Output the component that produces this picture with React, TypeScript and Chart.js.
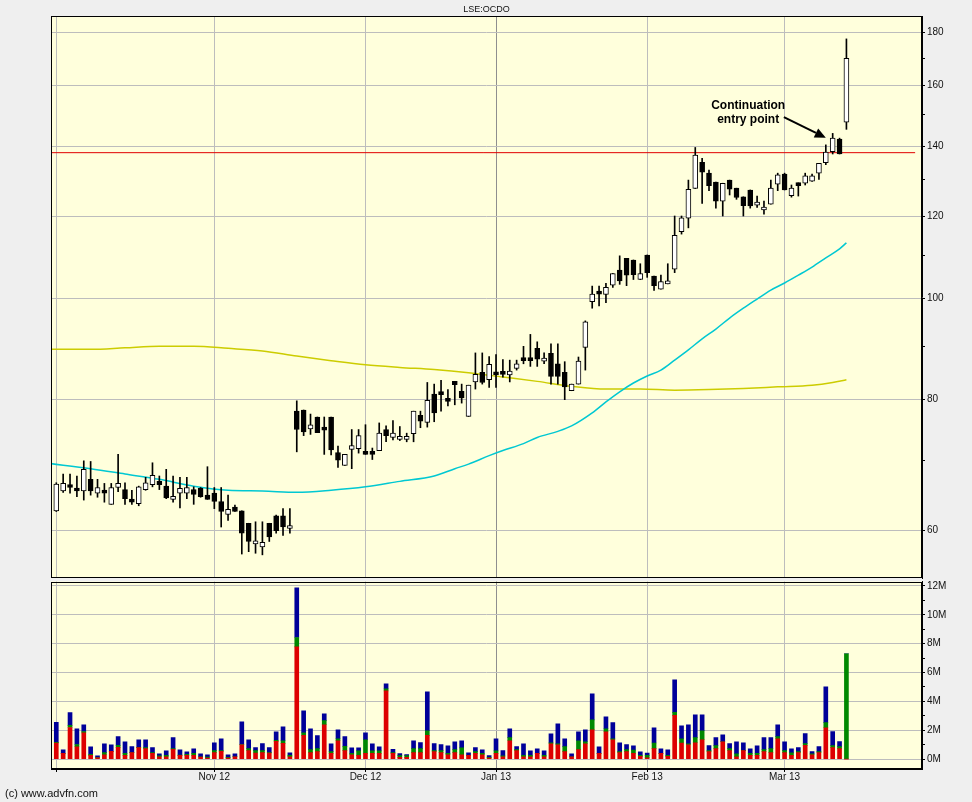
import React, { useEffect, useRef } from 'react';
import { Chart, registerables } from 'chart.js';

Chart.register(...registerables);

// ---------- DATA ----------
const title = 'LSE:OCDO';
const copyright = '(c) www.advfn.com';

// x axis: trading-day index (0 = 1 Oct 2012)
const monthTickIdx = [0, 23, 45, 64, 86, 106];
const monthTickLabels = ['', 'Nov 12', 'Dec 12', 'Jan 13', 'Feb 13', 'Mar 13'];
const yearBoundaryIdx = 64;
const xMin = -0.77;
const xMax = 126.0;

const priceTicks = [60, 70, 80, 90, 100, 110, 120, 130, 140, 150, 160, 170, 180];
const priceLabelTicks = [60, 80, 100, 120, 140, 160, 180];
const priceMin = 53.97;
const priceMax = 186.6;

const volTicks = [0, 1, 2, 3, 4, 5, 6, 7, 8, 9, 10, 11, 12];
const volMin = -0.69;
const volMax = 12.31;

const open = [
  62.6, 65.4, 66.2, 65.8, 65.4, 67.1, 65.1, 65.3, 63.5, 65.9,
  65.6, 64.2, 63.6, 65.6, 66.3, 66.8, 66.1, 64.2, 65.1, 65.1,
  65.6, 65.8, 64.8, 65.1, 63.9, 62.1, 63.1, 62.6, 60.9, 58.2,
  57.8, 60.9, 61.9, 61.9, 60.2, 78.0, 78.2, 75.0, 77.0, 75.0,
  77.0, 71.2, 69.2, 71.7, 71.8, 71.3, 71.0, 71.5, 74.9, 73.6,
  73.3, 73.3, 74.2, 77.3, 76.1, 81.0, 81.1, 79.9, 83.3, 81.5,
  77.1, 83.2, 85.0, 83.6, 84.8, 85.1, 84.5, 85.7, 87.5, 87.4,
  89.6, 87.1, 88.6, 86.6, 85.0, 81.6, 82.8, 89.8, 99.3, 101.3,
  100.9, 103.0, 106.5, 109.3, 108.9, 104.3, 110.1, 105.1, 102.1, 103.3,
  106.7, 115.9, 119.4, 127.5, 135.1, 131.9, 129.3, 124.0, 129.9, 127.6,
  125.2, 127.1, 122.9, 121.6, 123.2, 128.7, 131.6, 125.5, 129.0, 129.0,
  129.6, 131.9, 135.0, 138.3, 142.2, 147.6,
];
const high = [
  66.6, 67.9, 67.9, 67.6, 69.9, 69.8, 67.1, 66.5, 66.5, 70.9,
  66.6, 65.5, 66.1, 67.4, 69.6, 67.6, 68.6, 67.6, 67.4, 67.4,
  66.0, 65.9, 69.0, 65.9, 65.9, 64.8, 63.4, 62.6, 60.9, 61.1,
  61.1, 60.9, 62.0, 62.9, 62.9, 79.8, 78.2, 77.5, 77.0, 77.0,
  77.0, 72.2, 70.9, 74.9, 74.9, 75.7, 71.9, 76.0, 75.5, 76.4,
  75.4, 74.3, 78.0, 78.0, 83.1, 82.8, 83.5, 81.8, 83.3, 82.8,
  82.6, 88.7, 88.7, 88.0, 88.4, 87.4, 87.3, 87.3, 90.0, 92.4,
  90.9, 88.7, 90.5, 90.5, 87.0, 82.8, 87.9, 95.2, 102.8, 102.8,
  103.4, 105.7, 109.9, 109.3, 108.9, 108.0, 110.1, 105.1, 105.3, 108.0,
  120.0, 120.0, 129.9, 139.6, 136.3, 132.8, 129.3, 129.0, 129.9, 127.6,
  125.2, 127.1, 125.4, 124.0, 129.9, 131.9, 131.9, 128.5, 129.1, 131.9,
  131.6, 134.8, 140.4, 144.0, 142.5, 177.4,
];
const low = [
  62.5, 65.2, 65.1, 64.6, 64.1, 64.8, 64.5, 63.8, 63.5, 65.3,
  63.5, 63.5, 63.3, 65.5, 66.0, 65.6, 64.3, 63.8, 63.0, 64.3,
  63.5, 64.5, 64.2, 62.9, 60.4, 61.3, 62.5, 56.9, 57.2, 57.0,
  56.8, 58.5, 59.6, 59.3, 59.6, 71.3, 73.9, 74.1, 74.4, 70.9,
  70.8, 68.9, 69.2, 68.7, 71.1, 70.9, 70.1, 71.5, 72.9, 73.2,
  73.1, 72.9, 72.9, 75.2, 75.3, 76.2, 78.0, 78.9, 79.1, 79.4,
  77.1, 81.9, 82.8, 82.2, 82.2, 84.1, 83.2, 85.4, 86.6, 86.1,
  86.1, 86.6, 82.8, 82.8, 80.0, 81.6, 82.8, 85.4, 97.9, 98.4,
  99.1, 102.5, 103.2, 102.9, 104.3, 104.3, 104.8, 101.8, 102.1, 103.3,
  105.9, 115.3, 116.9, 127.5, 123.4, 126.9, 122.1, 120.0, 125.7, 124.5,
  120.0, 122.1, 122.3, 120.5, 123.2, 126.9, 127.1, 125.1, 125.4, 128.5,
  129.5, 130.1, 134.4, 137.6, 137.6, 145.3,
];
const close = [
  66.4, 66.5, 65.9, 65.4, 68.6, 65.4, 65.9, 65.1, 65.9, 66.5,
  64.3, 63.8, 66.0, 66.6, 67.7, 66.3, 64.4, 64.5, 65.8, 65.9,
  64.9, 64.6, 64.2, 63.9, 62.5, 62.8, 62.5, 59.6, 58.5, 58.4,
  58.4, 59.1, 59.9, 60.4, 60.5, 74.9, 74.5, 75.7, 74.4, 74.8,
  71.6, 70.0, 70.9, 72.3, 73.9, 70.9, 70.9, 74.3, 73.9, 74.3,
  73.7, 73.8, 78.0, 76.3, 79.9, 77.7, 80.9, 79.7, 82.7, 80.3,
  82.6, 84.6, 83.1, 86.5, 84.5, 84.6, 85.2, 86.6, 87.2, 87.2,
  87.5, 87.5, 84.2, 84.2, 82.3, 82.8, 87.1, 95.0, 101.0, 101.0,
  102.5, 105.7, 104.0, 105.3, 105.4, 105.7, 105.9, 102.9, 103.8, 103.8,
  115.0, 119.5, 127.3, 137.3, 132.2, 128.3, 124.0, 129.0, 127.3, 125.0,
  122.8, 122.7, 123.5, 122.1, 127.6, 131.4, 127.1, 127.6, 128.3, 131.1,
  131.1, 134.8, 138.2, 142.5, 137.6, 170.0,
];

// moving averages
const cyanIdx = [-1, 5, 10, 15, 20, 25, 30, 35, 40, 45, 50, 55, 58, 60, 63, 65, 68, 70, 73, 75, 78, 80, 82, 84, 86, 88, 90, 92, 94, 96, 98, 100, 102, 104, 106, 108, 110, 112, 114, 115];
const cyanVal = [69.5, 68.7, 67.9, 67.1, 66.1, 65.5, 65.4, 65.2, 65.5, 66.0, 66.8, 67.6, 68.7, 69.4, 70.7, 71.5, 72.6, 73.6, 74.6, 75.5, 77.7, 79.6, 81.4, 83.0, 84.3, 85.4, 87.3, 89.3, 91.5, 93.5, 95.8, 97.9, 99.9, 101.9, 103.5, 105.3, 107.2, 109.4, 111.6, 113.1];
const yellowIdx = [-1, 5, 10, 15, 20, 25, 30, 35, 40, 45, 50, 55, 60, 65, 70, 75, 80, 85, 90, 95, 100, 105, 110, 113, 115];
const yellowVal = [89.4, 89.4, 89.7, 90.0, 90.0, 89.6, 89.1, 88.1, 87.2, 86.4, 85.9, 85.5, 84.9, 84.1, 83.3, 82.4, 81.9, 81.9, 81.7, 81.8, 82.0, 82.3, 82.6, 83.1, 83.6];

const levelPrice = 138;
const levelFromIdx = -0.77;
const levelToIdx = 125.0;

// annotation
const annoLines = ['Continuation', 'entry point'];
const annoTextIdx = 100.7;
const annoTextPrice = [153.0, 148.4];
const arrowFrom = { idx: 105.9, price: 149.3 };
const arrowTo = { idx: 112.0, price: 142.6 };

// volume (millions): red / green / blue stacked
const volRed = [
  1.11, 0.39, 2.19, 0.85, 1.82, 0.25, 0.09, 0.30, 0.53, 0.81,
  0.25, 0.44, 0.79, 0.72, 0.39, 0.16, 0.16, 0.67, 0.25, 0.25,
  0.25, 0.14, 0.07, 0.44, 0.53, 0.07, 0.16, 0.99, 0.58, 0.42,
  0.44, 0.42, 1.22, 1.09, 0.16, 7.78, 1.64, 0.44, 0.51, 2.38,
  0.39, 1.27, 0.58, 0.30, 0.25, 0.39, 0.39, 0.39, 4.73, 0.39,
  0.12, 0.12, 0.44, 0.44, 1.64, 0.51, 0.44, 0.30, 0.44, 0.30,
  0.25, 0.39, 0.30, 0.07, 0.39, 0.16, 1.27, 0.58, 0.16, 0.16,
  0.39, 0.16, 1.06, 0.99, 0.51, 0.16, 0.65, 1.06, 2.03, 0.39,
  1.89, 1.34, 0.44, 0.51, 0.39, 0.18, 0.09, 0.72, 0.39, 0.18,
  3.03, 1.11, 0.99, 1.13, 1.34, 0.51, 0.72, 1.20, 0.58, 0.16,
  0.58, 0.25, 0.25, 0.51, 0.44, 1.41, 0.44, 0.25, 0.44, 0.95,
  0.30, 0.44, 2.17, 0.79, 0.72, 0,
];
const volGreen = [
  0.05, 0, 0.14, 0.16, 0.09, 0.07, 0.02, 0.14, 0, 0.14,
  0.14, 0, 0.02, 0.07, 0.05, 0.07, 0.09, 0.05, 0.02, 0.07,
  0.14, 0.02, 0.07, 0.14, 0.05, 0.05, 0, 0.02, 0.14, 0.16,
  0.14, 0.02, 0.07, 0.18, 0.09, 0.65, 0.18, 0.21, 0.21, 0.28,
  0.12, 0.14, 0.30, 0.09, 0.32, 0.95, 0.18, 0.18, 0.14, 0.05,
  0.12, 0.12, 0.28, 0.28, 0.32, 0.07, 0.14, 0.09, 0.21, 0.48,
  0, 0.12, 0.09, 0.05, 0.18, 0.07, 0.21, 0.07, 0.09, 0.09,
  0, 0.09, 0.07, 0.07, 0.35, 0, 0.62, 0.14, 0.69, 0,
  0.21, 0.07, 0.07, 0.14, 0.23, 0.07, 0.16, 0.39, 0, 0.07,
  0.21, 0.30, 0.07, 0.35, 0.62, 0.07, 0.21, 0, 0.14, 0.21,
  0, 0.14, 0.14, 0.14, 0.28, 0.14, 0.14, 0.18, 0.07, 0.12,
  0.07, 0.07, 0.35, 0.14, 0.14, 7.30,
];
const volBlue = [
  1.39, 0.25, 0.90, 1.09, 0.46, 0.53, 0.12, 0.62, 0.46, 0.60,
  0.81, 0.42, 0.53, 0.55, 0.35, 0.14, 0.32, 0.76, 0.37, 0.18,
  0.32, 0.21, 0.16, 0.55, 0.83, 0.18, 0.21, 1.57, 0.62, 0.21,
  0.49, 0.35, 0.60, 0.97, 0.18, 3.44, 1.52, 1.45, 0.90, 0.48,
  0.55, 0.62, 0.67, 0.39, 0.21, 0.48, 0.49, 0.28, 0.35, 0.23,
  0.14, 0.07, 0.55, 0.42, 2.70, 0.49, 0.42, 0.53, 0.55, 0.48,
  0.18, 0.28, 0.25, 0.12, 0.83, 0.35, 0.62, 0.21, 0.81, 0.32,
  0.32, 0.32, 0.62, 1.39, 0.55, 0.21, 0.62, 0.83, 1.80, 0.46,
  0.83, 1.11, 0.62, 0.35, 0.30, 0.25, 0.16, 1.06, 0.32, 0.39,
  2.26, 0.90, 1.32, 1.59, 1.11, 0.35, 0.55, 0.48, 0.35, 0.83,
  0.55, 0.32, 0.53, 0.83, 0.76, 0.83, 0.62, 0.28, 0.28, 0.69,
  0.14, 0.35, 2.49, 0.97, 0.35, 0,
];

// ---------- STYLE ----------
const PAGE_BG = '#efefef';
const PLOT_BG = '#ffffdc';
const GRID = '#bdbdbd';
const GRID_YEAR = '#8f8f8f';
const FONT = '"Liberation Sans", Arial, sans-serif';

const monthLabel = (v: number) => {
  const k = monthTickIdx.indexOf(v);
  return k >= 0 ? monthTickLabels[k] : '';
};

const bgPlugin = {
  id: 'plotBg',
  beforeDraw(chart: any) {
    const { ctx, chartArea: a } = chart;
    ctx.save();
    ctx.fillStyle = PLOT_BG;
    ctx.fillRect(a.left, a.top, a.right - a.left, a.bottom - a.top);
    ctx.restore();
  },
};

const framePlugin = {
  id: 'frame',
  afterDraw(chart: any) {
    const { ctx, chartArea: a } = chart;
    ctx.save();
    ctx.strokeStyle = '#000';
    ctx.lineWidth = 1;
    const l = Math.round(a.left) + 0.5;
    const t = Math.round(a.top) + 0.5;
    const r = Math.round(a.right) - 0.5;
    const b = Math.round(a.bottom) - 0.5;
    ctx.strokeRect(l, t, r - l, b - t);
    ctx.restore();
  },
};

const annoPlugin = {
  id: 'anno',
  afterDatasetsDraw(chart: any) {
    const { ctx } = chart;
    const xs = chart.scales.x;
    const ys = chart.scales.y;
    ctx.save();
    ctx.fillStyle = '#000';
    ctx.font = `bold 12px ${FONT}`;
    ctx.textAlign = 'center';
    ctx.textBaseline = 'middle';
    annoLines.forEach((s, k) => {
      ctx.fillText(s, xs.getPixelForValue(annoTextIdx), ys.getPixelForValue(annoTextPrice[k]));
    });
    const x0 = xs.getPixelForValue(arrowFrom.idx);
    const y0 = ys.getPixelForValue(arrowFrom.price);
    const x1 = xs.getPixelForValue(arrowTo.idx);
    const y1 = ys.getPixelForValue(arrowTo.price);
    const ang = Math.atan2(y1 - y0, x1 - x0);
    const headLen = 11;
    const headW = 5;
    const bx = x1 - headLen * Math.cos(ang);
    const by = y1 - headLen * Math.sin(ang);
    ctx.strokeStyle = '#000';
    ctx.lineWidth = 2;
    ctx.beginPath();
    ctx.moveTo(x0, y0);
    ctx.lineTo(bx, by);
    ctx.stroke();
    ctx.beginPath();
    ctx.moveTo(x1, y1);
    ctx.lineTo(bx + headW * Math.sin(ang), by - headW * Math.cos(ang));
    ctx.lineTo(bx - headW * Math.sin(ang), by + headW * Math.cos(ang));
    ctx.closePath();
    ctx.fill();
    ctx.restore();
  },
};

const fixYAxis = (s: any) => {
  s.width = 50;
  s.paddingTop = 0;
  s.paddingBottom = 0;
};

export default function App() {
  const priceRef = useRef<HTMLCanvasElement | null>(null);
  const volRef = useRef<HTMLCanvasElement | null>(null);

  useEffect(() => {
    const idx = open.map((_, i) => i);
    const xScaleBase = {
      type: 'linear' as const,
      min: xMin,
      max: xMax,
      offset: false,
      afterBuildTicks: (s: any) => {
        s.ticks = monthTickIdx.map((v) => ({ value: v }));
      },
    };
    const vGridColor = (c: any) => (c.tick && c.tick.value === yearBoundaryIdx ? GRID_YEAR : GRID);

    const priceChart = new Chart(priceRef.current as HTMLCanvasElement, {
      type: 'bar',
      data: {
        datasets: [
          {
            type: 'bar',
            label: 'body',
            data: idx.map((i) => ({ x: i, y: [open[i], close[i]] })) as any,
            backgroundColor: idx.map((i) => (close[i] >= open[i] ? '#ffffff' : '#000000')),
            borderColor: '#000000',
            borderWidth: 1,
            borderSkipped: false,
            barThickness: 5,
            minBarLength: 3,
            grouped: false,
            order: 0,
          } as any,
          {
            type: 'bar',
            label: 'wick',
            data: idx.map((i) => ({ x: i, y: [low[i], high[i]] })) as any,
            backgroundColor: '#000000',
            borderWidth: 0,
            barThickness: 1,
            grouped: false,
            order: 1,
          } as any,
          {
            type: 'line',
            label: 'level',
            data: [
              { x: levelFromIdx, y: levelPrice },
              { x: levelToIdx, y: levelPrice },
            ],
            borderColor: '#e00000',
            borderWidth: 1,
            pointRadius: 0,
            order: 2,
          } as any,
          {
            type: 'line',
            label: 'ma-short',
            data: cyanIdx.map((x, k) => ({ x, y: cyanVal[k] })),
            borderColor: '#00c8d2',
            borderWidth: 1.5,
            pointRadius: 0,
            cubicInterpolationMode: 'monotone',
            order: 3,
          } as any,
          {
            type: 'line',
            label: 'ma-long',
            data: yellowIdx.map((x, k) => ({ x, y: yellowVal[k] })),
            borderColor: '#cccc00',
            borderWidth: 1.5,
            pointRadius: 0,
            cubicInterpolationMode: 'monotone',
            order: 4,
          } as any,
        ],
      },
      options: {
        responsive: false,
        animation: false,
        devicePixelRatio: 1,
        events: [],
        layout: { autoPadding: false, padding: { left: 51, top: 16, right: 0, bottom: 2 } },
        plugins: { legend: { display: false }, tooltip: { enabled: false } },
        scales: {
          x: {
            ...xScaleBase,
            afterFit: (s: any) => {
              s.height = 0;
              s.paddingLeft = 0;
              s.paddingRight = 0;
            },
            ticks: { display: false },
            grid: { color: vGridColor, drawTicks: false, lineWidth: 1, offset: false },
            border: { display: false },
          } as any,
          y: {
            type: 'logarithmic',
            position: 'right',
            min: priceMin,
            max: priceMax,
            afterBuildTicks: (s: any) => {
              s.ticks = priceTicks.map((v) => ({ value: v }));
            },
            afterFit: fixYAxis,
            ticks: {
              autoSkip: false,
              callback: (v: any) => (priceLabelTicks.includes(Number(v)) ? String(v) : ''),
              font: { family: FONT, size: 10 },
              color: '#111',
              padding: 2,
            },
            grid: {
              color: (c: any) => (c.tick && priceLabelTicks.includes(c.tick.value) ? GRID : 'rgba(0,0,0,0)'),
              tickColor: '#000',
              tickLength: 3,
              lineWidth: 1,
            },
            border: { display: true, color: '#000' },
          } as any,
        },
      },
      plugins: [bgPlugin, framePlugin, annoPlugin],
    });

    const volChart = new Chart(volRef.current as HTMLCanvasElement, {
      type: 'bar',
      data: {
        datasets: [
          { label: 'red', data: idx.map((i) => ({ x: i, y: volRed[i] })), backgroundColor: '#dd0000' },
          { label: 'green', data: idx.map((i) => ({ x: i, y: volGreen[i] })), backgroundColor: '#008800' },
          { label: 'blue', data: idx.map((i) => ({ x: i, y: volBlue[i] })), backgroundColor: '#000099' },
        ].map((d) => ({ ...d, barThickness: 4, borderWidth: 0, grouped: false, stack: 'v' })) as any,
      },
      options: {
        responsive: false,
        animation: false,
        devicePixelRatio: 1,
        events: [],
        layout: { autoPadding: false, padding: { left: 51, top: 1.5, right: 0, bottom: 0 } },
        plugins: { legend: { display: false }, tooltip: { enabled: false } },
        scales: {
          x: {
            ...xScaleBase,
            stacked: true,
            afterFit: (s: any) => {
              s.height = 33;
              s.paddingLeft = 0;
              s.paddingRight = 0;
            },
            ticks: {
              autoSkip: false,
              maxRotation: 0,
              callback: (v: any) => monthLabel(Number(v)),
              font: { family: FONT, size: 10 },
              color: '#111',
              padding: -1,
            },
            grid: { color: vGridColor, tickColor: '#000', tickLength: 3, lineWidth: 1, offset: false },
            border: { display: true, color: '#000' },
          } as any,
          y: {
            type: 'linear',
            position: 'right',
            stacked: true,
            min: volMin,
            max: volMax,
            afterBuildTicks: (s: any) => {
              s.ticks = volTicks.map((v) => ({ value: v }));
            },
            afterFit: fixYAxis,
            ticks: {
              autoSkip: false,
              callback: (v: any) => (Number(v) % 2 === 0 ? `${v}M` : ''),
              font: { family: FONT, size: 10 },
              color: '#111',
              padding: 2,
            },
            grid: {
              color: (c: any) => (c.tick && c.tick.value % 2 === 0 ? GRID : 'rgba(0,0,0,0)'),
              tickColor: '#000',
              tickLength: 3,
              lineWidth: 1,
            },
            border: { display: true, color: '#000' },
          } as any,
        },
      },
      plugins: [bgPlugin, framePlugin],
    });

    return () => {
      priceChart.destroy();
      volChart.destroy();
    };
  }, []);

  return (
    <div
      style={{
        position: 'absolute',
        left: 0,
        top: 0,
        width: 972,
        height: 802,
        background: PAGE_BG,
        overflow: 'hidden',
        fontFamily: FONT,
      }}
    >
      <canvas ref={priceRef} width={972} height={580} style={{ position: 'absolute', left: 0, top: 0, width: 972, height: 580 }} />
      <canvas ref={volRef} width={972} height={222} style={{ position: 'absolute', left: 0, top: 580, width: 972, height: 222 }} />
      <div
        style={{
          position: 'absolute',
          left: 0,
          top: 3,
          width: 973,
          textAlign: 'center',
          fontSize: 9,
          lineHeight: '12px',
          color: '#111',
        }}
      >
        {title}
      </div>
      <div style={{ position: 'absolute', left: 5, top: 786, fontSize: 11, lineHeight: '14px', color: '#111' }}>
        {copyright}
      </div>
    </div>
  );
}
